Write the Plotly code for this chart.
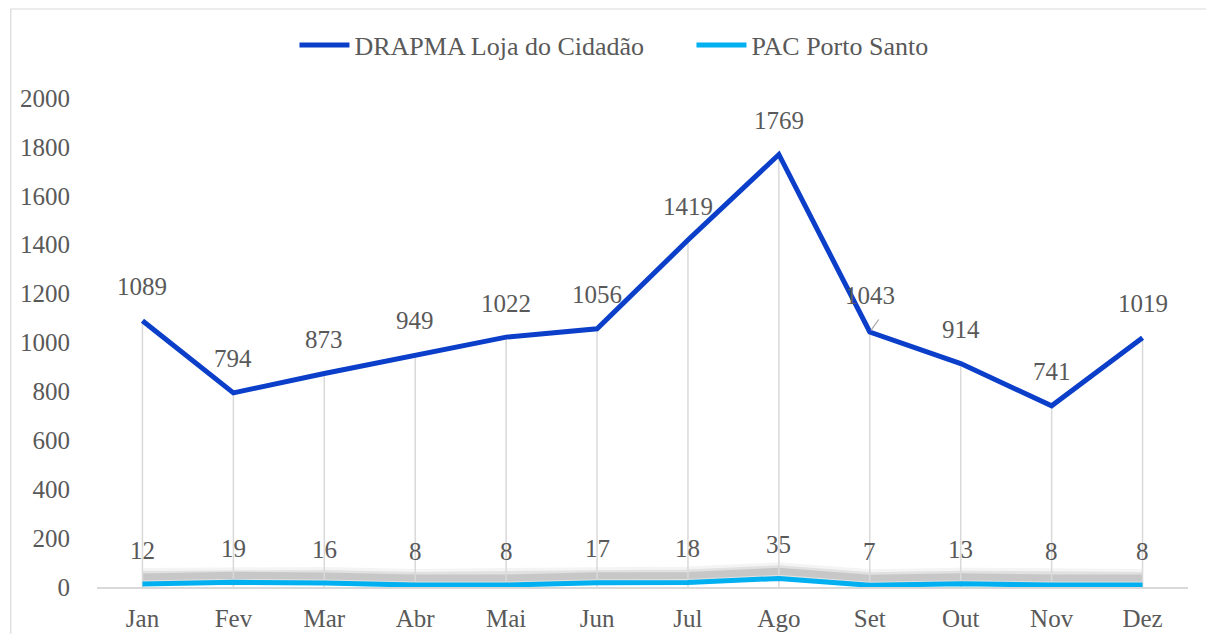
import plotly.graph_objects as go

months = ["Jan", "Fev", "Mar", "Abr", "Mai", "Jun", "Jul", "Ago", "Set", "Out", "Nov", "Dez"]
drapma = [1089, 794, 873, 949, 1022, 1056, 1419, 1769, 1043, 914, 741, 1019]
pac = [12, 19, 16, 8, 8, 17, 18, 35, 7, 13, 8, 8]
y_ticks = [0, 200, 400, 600, 800, 1000, 1200, 1400, 1600, 1800, 2000]

FONT = "Liberation Serif"
GREY = "#595959"
BLUE = "#0b3fc9"
CYAN = "#00b0f0"

fig = go.Figure()

# soft drop shadow under the small series, drawn on a hidden, slightly shifted axis
for w, a in [(18, 0.06), (12, 0.11), (7, 0.16)]:
    fig.add_trace(go.Scatter(x=months, y=pac, mode="lines", yaxis="y",
                             line=dict(color=f"rgba(70,70,70,{a})", width=w),
                             hoverinfo="skip", showlegend=False))

# drop lines from the top series down to the axis
dx, dy = [], []
for m, v in zip(months, drapma):
    dx += [m, m, None]
    dy += [0, v, None]
fig.add_trace(go.Scatter(x=dx, y=dy, mode="lines", yaxis="y2",
                         line=dict(color="#d9d9d9", width=1.5),
                         hoverinfo="skip", showlegend=False))

fig.add_trace(go.Scatter(x=months, y=drapma, mode="lines", name="DRAPMA Loja do Cidadão",
                         yaxis="y2", line=dict(color=BLUE, width=5)))
fig.add_trace(go.Scatter(x=months, y=pac, mode="lines", name="PAC Porto Santo",
                         yaxis="y2", line=dict(color=CYAN, width=5)))

for series in (drapma, pac):
    for m, v in zip(months, series):
        shift = 36 if (series is drapma and m == "Set") else 34
        fig.add_annotation(x=m, y=v, yref="y2", text=str(v), showarrow=False,
                           yshift=shift, font=dict(family=FONT, size=25, color=GREY))

# leader line for the nudged label
fig.add_annotation(x="Set", y=drapma[8], yref="y2", text="", showarrow=True,
                   arrowhead=0, arrowwidth=1.2, arrowcolor="#a6a6a6",
                   ax=10, ay=-14, standoff=2)

# chart border (right and bottom edges fall outside the page, as in the original)
fig.add_shape(type="rect", xref="paper", yref="paper",
              x0=-0.079, x1=1.05, y0=-0.2, y1=1.182,
              line=dict(color="#d9d9d9", width=1.2))

fig.update_layout(
    width=1198, height=626,
    margin=dict(l=89, r=18, t=90, b=47, autoexpand=False),
    plot_bgcolor="white", paper_bgcolor="white",
    font=dict(family=FONT, size=25, color=GREY),
    legend=dict(orientation="h", x=0.181, xanchor="left", y=1.108, yanchor="middle",
                font=dict(family=FONT, size=26, color=GREY), itemwidth=50,
                entrywidth=332, entrywidthmode="pixels"),
    xaxis=dict(showgrid=False, showline=True, linecolor="#d9d9d9", linewidth=1.5,
               ticks="outside", ticklen=8, tickcolor="rgba(0,0,0,0)",
               zeroline=False, range=[-0.5, 11.5], automargin=False),
    yaxis=dict(range=[-29, 1971], visible=False, fixedrange=True),
    yaxis2=dict(range=[0, 2000], overlaying="y", side="left", tickvals=y_ticks,
                showgrid=False, zeroline=False, showline=False, automargin=False,
                ticks="outside", ticklen=21, tickcolor="rgba(0,0,0,0)"),
    hovermode=False,
)

fig.write_html("out.html")
